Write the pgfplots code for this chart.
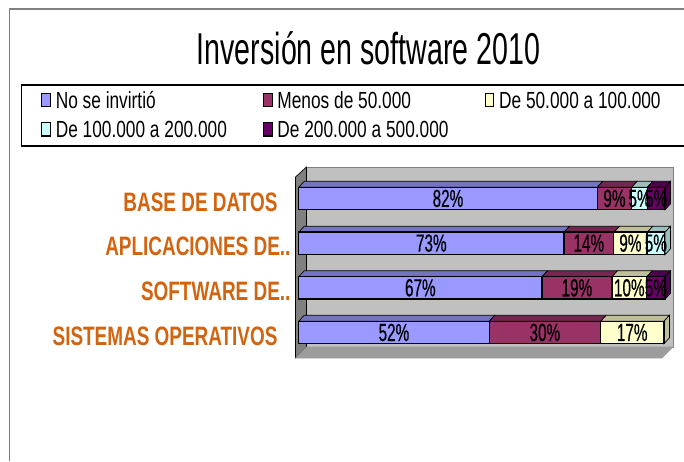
\documentclass[border=0pt]{standalone}
\usepackage{pgfplots}
\pgfplotsset{compat=1.18}
\usepackage{fontspec}
\setmainfont{Liberation Sans}
\newfontfamily\titlef[FakeStretch=0.64]{Liberation Sans}
\newfontfamily\legf[FakeStretch=0.741]{Liberation Sans}
\newfontfamily\barf[FakeStretch=0.62,FakeBold=0.4]{Liberation Sans}
\newfontfamily\catf[FakeStretch=0.71]{Liberation Sans Bold}
\definecolor{cA}{HTML}{9999FF}\definecolor{cB}{HTML}{993366}\definecolor{cC}{HTML}{FFFFCC}\definecolor{cD}{HTML}{CCFFFF}\definecolor{cE}{HTML}{660066}
\definecolor{tA}{HTML}{7373BF}\definecolor{tB}{HTML}{732650}\definecolor{tC}{HTML}{BFBF99}\definecolor{tD}{HTML}{99BFBF}\definecolor{tE}{HTML}{4D004D}
\definecolor{wallc}{HTML}{C0C0C0}\definecolor{lwall}{HTML}{808080}\definecolor{floorc}{HTML}{9C9C9C}\definecolor{catc}{HTML}{D2640F}
\newcommand{\poly}[3]{\addplot[fill=#1,draw=#2,line width=0.5pt] coordinates {#3} -- cycle;}
\begin{document}
\begin{tikzpicture}[x=1pt,y=1pt]
\path[use as bounding box] (0,0) rectangle (513,345.75);
% background geometry in picture pixels
\begin{axis}[at={(0,0)},anchor=south west,scale only axis,width=513pt,height=345.75pt,
  xmin=0,xmax=684,ymin=0,ymax=461,y dir=reverse,hide axis,no marks,clip=true,
  title={\titlef\fontsize{33.5}{38}\selectfont Inversión en software 2010},
  title style={at={(0.5387,0.8785)},anchor=center,inner sep=0pt}]
% outer frame
\addplot[draw=lwall,line width=0.9pt] coordinates {(9.5,461) (9.5,9) (684,9)};
% legend frame
\addplot[draw=black,line width=1pt] coordinates {(684,85) (21.5,85) (21.5,146) (684,146)};
% walls
\poly{wallc}{lwall}{(306.5,167) (673,167) (673,347) (306.5,347)}
\poly{lwall}{black}{(295.5,177) (306.5,167) (306.5,347) (295.5,358)}
\poly{floorc}{floorc}{(295.5,358) (662,358) (673,347) (306.5,347)}
% row 1
\poly{tA}{black}{(298.7,187.25) (597.3,187.25) (602.8,181.25) (304.2,181.25)}
\poly{tB}{black}{(597.3,187.25) (631.7,187.25) (637.2,181.25) (602.8,181.25)}
\poly{tD}{black}{(631.7,187.25) (647.3,187.25) (652.8,181.25) (637.2,181.25)}
\poly{tE}{black}{(647.3,187.25) (665,187.25) (670.5,181.25) (652.8,181.25)}
\poly{tE}{black}{(665,187.25) (670.5,181.25) (670.5,203.75) (665,209.75)}
% row 2
\poly{tA}{black}{(298.7,232.25) (564,232.25) (569.5,226.25) (304.2,226.25)}
\poly{tB}{black}{(564,232.25) (614,232.25) (619.5,226.25) (569.5,226.25)}
\poly{tC}{black}{(614,232.25) (647.3,232.25) (652.8,226.25) (619.5,226.25)}
\poly{tD}{black}{(647.3,232.25) (665,232.25) (670.5,226.25) (652.8,226.25)}
\poly{tD}{black}{(665,232.25) (670.5,226.25) (670.5,248.75) (665,254.75)}
% row 3
\poly{tA}{black}{(298.7,276.75) (542,276.75) (547.5,270.75) (304.2,270.75)}
\poly{tB}{black}{(542,276.75) (612,276.75) (617.5,270.75) (547.5,270.75)}
\poly{tC}{black}{(612,276.75) (646.7,276.75) (652.2,270.75) (617.5,270.75)}
\poly{tE}{black}{(646.7,276.75) (665,276.75) (670.5,270.75) (652.2,270.75)}
\poly{tE}{black}{(665,276.75) (670.5,270.75) (670.5,293.25) (665,299.25)}
% row 4
\poly{tA}{black}{(298.7,321.25) (489.3,321.25) (494.8,315.25) (304.2,315.25)}
\poly{tB}{black}{(489.3,321.25) (600.7,321.25) (606.2,315.25) (494.8,315.25)}
\poly{tC}{black}{(600.7,321.25) (664,321.25) (669.5,315.25) (606.2,315.25)}
\poly{tC}{black}{(664,321.25) (669.5,315.25) (669.5,337.75) (664,343.75)}
\end{axis}
% bars
\begin{axis}[at={(224.025pt,79.65pt)},anchor=south west,scale only axis,
  width=274.725pt,height=134.025pt,
  xmin=0,xmax=100,ymin=-0.5,ymax=3.5,
  xbar stacked,bar width=16.875pt,
  axis line style={draw=none},tick style={draw=none},
  xtick=\empty,ytick={0,1,2,3},
  yticklabels={SISTEMAS OPERATIVOS\hspace*{9.75pt},SOFTWARE DE..,APLICACIONES DE..,BASE DE DATOS\hspace*{9.75pt}},
  y tick label style={font=\catf\fontsize{20}{22}\selectfont,text=catc,yshift=-2.6pt,inner sep=0pt,xshift=-6pt},
  clip=false,
  point meta=explicit symbolic,
  nodes near coords,
  every node near coord/.append style={font=\barf\fontsize{18.5}{21}\selectfont,text=black,inner sep=0pt},
  legend columns=3,
  legend cell align=left,
  legend image code/.code={\draw[#1,line width=0.9pt,draw=black] (0pt,-5pt) rectangle (6.5pt,5pt);},
  legend style={at={(-0.7035,1.483)},anchor=north west,draw=none,fill=none,inner sep=0pt,
    font=\legf\fontsize{17.5}{20}\selectfont,
    /tikz/every even column/.append style={column sep=26pt},
    /tikz/every odd column/.append style={column sep=2.5pt},
    /tikz/row sep=7.5pt,
    nodes={inner sep=1pt,text depth=0pt}},
  ]
\addplot[fill=cA,draw=black,line width=1pt] coordinates {(52.0,0)[52\%] (66.4,1)[67\%] (72.4,2)[73\%] (81.5,3)[82\%]};
\addplot[fill=cB,draw=black,line width=1pt] coordinates {(30.4,0)[30\%] (19.1,1)[19\%] (13.6,2)[14\%] (9.4,3)[9\%]};
\addplot[fill=cC,draw=black,line width=1pt] coordinates {(17.3,0)[17\%] (9.5,1)[10\%] (9.1,2)[9\%] (0,3)[]};
\addplot[fill=cD,draw=black,line width=1pt] coordinates {(0,0)[] (0,1)[] (4.8,2)[5\%] (4.3,3)[5\%]};
\addplot[fill=cE,draw=black,line width=1pt] coordinates {(0,0)[] (5.0,1)[5\%] (0,2)[] (4.8,3)[5\%]};
\legend{No se invirtió,Menos de 50.000,De 50.000 a 100.000,De 100.000 a 200.000,De 200.000 a 500.000}
\end{axis}
\end{tikzpicture}
\end{document}
